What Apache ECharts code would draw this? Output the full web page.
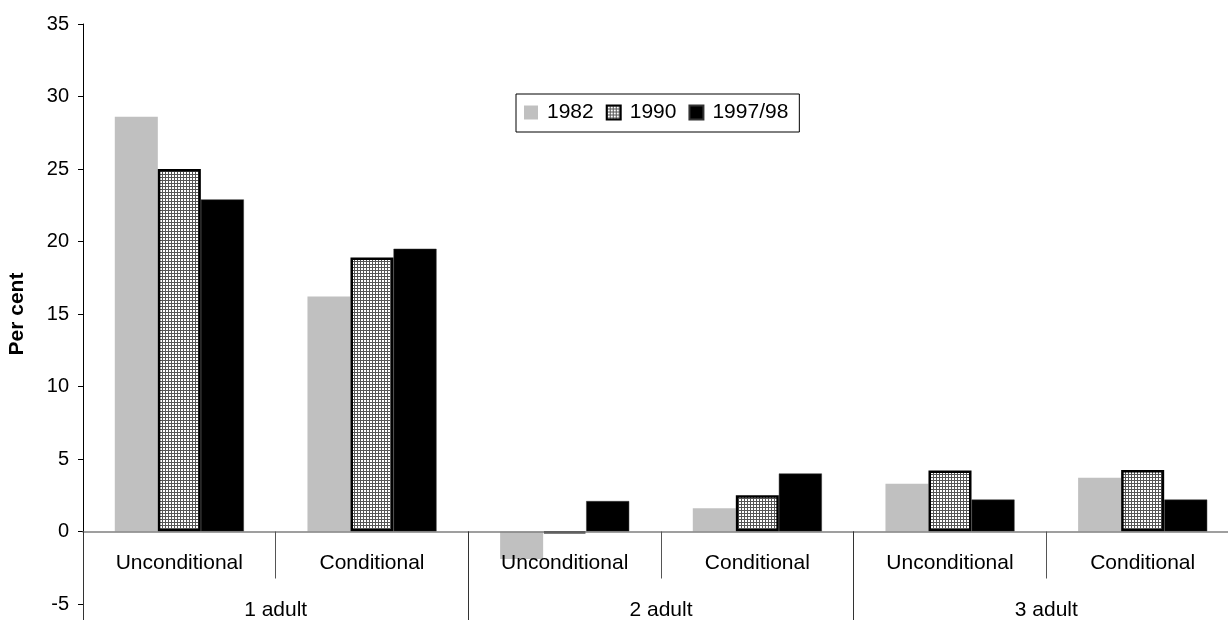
<!DOCTYPE html>
<html>
<head>
<meta charset="utf-8">
<script src="https://cdn.jsdelivr.net/npm/echarts@6/dist/echarts.min.js"></script>
<style>
  html, body { margin: 0; padding: 0; background: #fff; }
  #main { width: 1228px; height: 620px; }
</style>
</head>
<body>
<div id="main"></div>
<script>
// 数据
var subCats = ['Unconditional', 'Conditional', 'Unconditional', 'Conditional', 'Unconditional', 'Conditional'];
var groups = ['1 adult', '2 adult', '3 adult'];
var years = ['1982', '1990', '1997/98'];
var v1982 = [28.6, 16.2, -1.9, 1.6, 3.3, 3.7];
var v1990 = [25.0, 18.9, -0.1, 2.5, 4.2, 4.25];
var v1997 = [22.9, 19.5, 2.1, 4.0, 2.2, 2.2];
var yTicks = [-5, 35, 5]; // min, max, interval

// 1990 的网格填充
var pat = document.createElement('canvas');
pat.width = 3; pat.height = 3;
var ctx = pat.getContext('2d');
ctx.fillStyle = '#ffffff';
ctx.fillRect(0, 0, 3, 3);
ctx.fillStyle = '#555555';
ctx.fillRect(0, 0, 3, 1);
ctx.fillRect(0, 0, 1, 3);

var font = 'Arial, "Liberation Sans", sans-serif';
// 零线离底边的距离 (604 - 531.5)
var zeroOffset = -72.5;

var myChart = echarts.init(document.getElementById('main'));
var option = {
    animation: false,
    textStyle: { fontFamily: font, color: '#000' },
    grid: {
        left: 83, right: -11, top: 24, bottom: 16,
        outerBoundsMode: 'none'
    },
    legend: {
        data: years,
        left: 516,
        top: 94,
        orient: 'horizontal',
        icon: 'rect',
        itemWidth: 14,
        itemHeight: 14,
        itemGap: 12,
        padding: [8, 11, 9, 8],
        backgroundColor: '#fff',
        borderColor: '#000',
        borderWidth: 1,
        textStyle: { fontFamily: font, fontSize: 21, color: '#000', padding: [0, 0, 0, 4] }
    },
    xAxis: [
        {
            type: 'category',
            data: subCats,
            position: 'bottom',
            offset: zeroOffset,
            z: 5,
            axisLine: { onZero: false, lineStyle: { color: '#808080', width: 1.5 } },
            axisTick: { show: true, interval: 0, length: 47, lineStyle: { color: '#555', width: 1 } },
            axisLabel: { show: true, interval: 0, margin: 21, fontSize: 21, color: '#000', fontFamily: font },
            splitLine: { show: false }
        },
        {
            type: 'category',
            data: groups,
            position: 'bottom',
            offset: zeroOffset,
            z: 5,
            axisLine: { show: false, onZero: false },
            axisTick: { show: true, interval: 0, length: 89, lineStyle: { color: '#333', width: 1 } },
            axisLabel: { show: true, interval: 0, margin: 68, fontSize: 21, color: '#000', fontFamily: font },
            splitLine: { show: false }
        }
    ],
    yAxis: {
        type: 'value',
        min: yTicks[0],
        max: yTicks[1],
        interval: yTicks[2],
        name: 'Per cent',
        nameLocation: 'middle',
        nameRotate: 90,
        nameGap: 55,
        nameTextStyle: { fontFamily: font, fontSize: 21, fontWeight: 'bold', color: '#000' },
        axisLine: { show: true, lineStyle: { color: '#000', width: 1 } },
        axisTick: { show: true, length: 5, lineStyle: { color: '#000' } },
        axisLabel: { margin: 14, fontSize: 20, color: '#000', fontFamily: font },
        splitLine: { show: false }
    },
    series: [
        {
            name: years[0],
            type: 'bar',
            data: v1982,
            barGap: 0,
            barCategoryGap: '33%',
            itemStyle: { color: '#c0c0c0' }
        },
        {
            name: years[1],
            type: 'bar',
            data: v1990,
            itemStyle: { color: { image: pat, repeat: 'repeat' }, borderColor: '#000', borderWidth: 2.5 }
        },
        {
            name: years[2],
            type: 'bar',
            data: v1997,
            itemStyle: { color: '#000', borderColor: '#333', borderWidth: 0.5 }
        }
    ]
};
myChart.setOption(option);
</script>
</body>
</html>
